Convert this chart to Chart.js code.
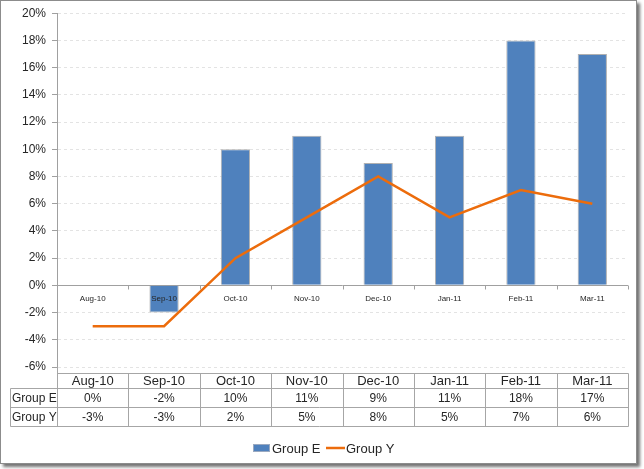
<!DOCTYPE html>
<html>
<head>
<meta charset="utf-8">
<script src="https://cdn.jsdelivr.net/npm/chart.js@4"></script>
<style>
  html, body { margin: 0; padding: 0; background: #ffffff; }
  #frame { position: absolute; left: 0; top: 0; width: 637px; height: 464px; box-sizing: border-box;
           border: 1px solid #8c8c8c; background: #fff; box-shadow: 3px 3px 3px rgba(0,0,0,0.55); }
  #c { position: absolute; left: 0; top: 0; }
</style>
</head>
<body>
<div id="frame"></div>
<canvas id="c" width="644" height="469"></canvas>
<script>
const categories = ['Aug-10', 'Sep-10', 'Oct-10', 'Nov-10', 'Dec-10', 'Jan-11', 'Feb-11', 'Mar-11'];
const groupE = [0, -2, 10, 11, 9, 11, 18, 17];
const groupY = [-3, -3, 2, 5, 8, 5, 7, 6];
const seriesNames = ['Group E', 'Group Y'];
const yMin = -6, yMax = 20, yStep = 2;

const BAR_COLOR = '#4F81BD';
const LINE_COLOR = '#EC6C0C';
const TEXT = '#262626';
const LINE_GRAY = '#A6A6A6';
const FONT = '"Liberation Sans", Arial, sans-serif';

const pct = v => v + '%';

const overlay = {
  id: 'overlay',
  beforeDatasetsDraw(chart) {
    const ctx = chart.ctx, ca = chart.chartArea, ys = chart.scales.y;
    const y0 = Math.round(ys.getPixelForValue(0)) + 0.5;
    const w = (ca.right - ca.left) / categories.length;
    ctx.save();
    ctx.strokeStyle = '#A0A0A0';
    ctx.lineWidth = 1;
    ctx.beginPath();
    ctx.moveTo(ca.left, y0); ctx.lineTo(ca.right, y0);
    for (let i = 0; i <= categories.length; i++) {
      const x = Math.round(ca.left + i * w) + 0.5;
      ctx.moveTo(x, y0); ctx.lineTo(x, y0 + 4);
    }
    ctx.stroke();
    ctx.restore();
  },
  afterDatasetsDraw(chart) {
    const ctx = chart.ctx, xs = chart.scales.x, ys = chart.scales.y;
    const y0 = ys.getPixelForValue(0);
    ctx.save();
    ctx.font = '8px ' + FONT;
    ctx.fillStyle = TEXT;
    ctx.textAlign = 'center';
    ctx.textBaseline = 'middle';
    categories.forEach((c, i) => ctx.fillText(c, xs.getPixelForValue(i), y0 + 13));
    ctx.restore();
  },
  afterDraw(chart) {
    const ctx = chart.ctx, ca = chart.chartArea, xs = chart.scales.x;
    const n = categories.length;
    const w = (ca.right - ca.left) / n;
    const tTop = ca.bottom + 6, r1 = tTop + 15, r2 = r1 + 19, r3 = r2 + 19;
    const leftX = 10.5;
    const L = Math.round(ca.left) + 0.5, R = Math.round(ca.right) + 0.5;
    ctx.save();
    ctx.strokeStyle = LINE_GRAY;
    ctx.lineWidth = 1;
    ctx.beginPath();
    ctx.moveTo(L, ca.bottom); ctx.lineTo(L, r3 + 0.5);
    ctx.moveTo(L, tTop + 0.5); ctx.lineTo(R, tTop + 0.5);
    [r1, r2, r3].forEach(y => { ctx.moveTo(leftX, y + 0.5); ctx.lineTo(R, y + 0.5); });
    ctx.moveTo(leftX, r1 + 0.5); ctx.lineTo(leftX, r3 + 0.5);
    for (let i = 1; i <= n; i++) {
      const x = Math.round(ca.left + i * w) + 0.5;
      ctx.moveTo(x, tTop + 0.5); ctx.lineTo(x, r3 + 0.5);
    }
    ctx.stroke();

    ctx.fillStyle = TEXT;
    ctx.textBaseline = 'middle';
    ctx.textAlign = 'center';
    ctx.font = '13px ' + FONT;
    categories.forEach((c, i) => ctx.fillText(c, xs.getPixelForValue(i), (tTop + r1) / 2 + 1));
    ctx.font = '12px ' + FONT;
    groupE.forEach((v, i) => ctx.fillText(pct(v), xs.getPixelForValue(i), (r1 + r2) / 2 + 1));
    groupY.forEach((v, i) => ctx.fillText(pct(v), xs.getPixelForValue(i), (r2 + r3) / 2 + 1));
    ctx.textAlign = 'left';
    ctx.font = '12px ' + FONT;
    ctx.fillText(seriesNames[0], 12, (r1 + r2) / 2 + 1);
    ctx.fillText(seriesNames[1], 12, (r2 + r3) / 2 + 1);

    // legend
    const ly = 448;
    ctx.fillStyle = BAR_COLOR;
    ctx.fillRect(253, ly - 4, 17, 8);
    ctx.strokeStyle = '#9aa9c0';
    ctx.strokeRect(253.5, ly - 3.5, 16, 7);
    ctx.fillStyle = TEXT;
    ctx.font = '13px ' + FONT;
    ctx.fillText(seriesNames[0], 272, ly + 1);
    ctx.strokeStyle = LINE_COLOR;
    ctx.lineWidth = 2.5;
    ctx.beginPath();
    ctx.moveTo(326, ly); ctx.lineTo(345, ly);
    ctx.stroke();
    ctx.fillText(seriesNames[1], 346, ly + 1);
    ctx.restore();
  }
};

new Chart(document.getElementById('c'), {
  type: 'bar',
  data: {
    labels: categories,
    datasets: [
      { type: 'line', label: seriesNames[1], data: groupY, borderColor: LINE_COLOR, backgroundColor: LINE_COLOR,
        borderWidth: 2.5, pointRadius: 0, tension: 0, fill: false, order: 0 },
      { type: 'bar', label: seriesNames[0], data: groupE, backgroundColor: BAR_COLOR, borderColor: '#B0B0B0',
        borderWidth: 1, barPercentage: 1, categoryPercentage: 0.41, order: 1 }
    ]
  },
  options: {
    responsive: false,
    animation: false,
    devicePixelRatio: 1,
    layout: { padding: { left: 0, top: 13, right: 16, bottom: 102 } },
    plugins: { legend: { display: false }, tooltip: { enabled: false } },
    scales: {
      x: { display: false, offset: true },
      y: {
        min: yMin, max: yMax,
        ticks: { stepSize: yStep, callback: v => pct(v), color: TEXT, font: { family: FONT, size: 12 }, padding: 6 },
        grid: { color: ctx => ctx.tick && ctx.tick.value === 0 ? 'rgba(0,0,0,0)' : '#E3E3E3', tickColor: '#A0A0A0', tickLength: 5, tickBorderDash: [] },
        border: { color: '#A0A0A0', dash: [3, 3] },
        afterFit(s) { s.width = 57; }
      }
    }
  },
  plugins: [overlay]
});
</script>
</body>
</html>
